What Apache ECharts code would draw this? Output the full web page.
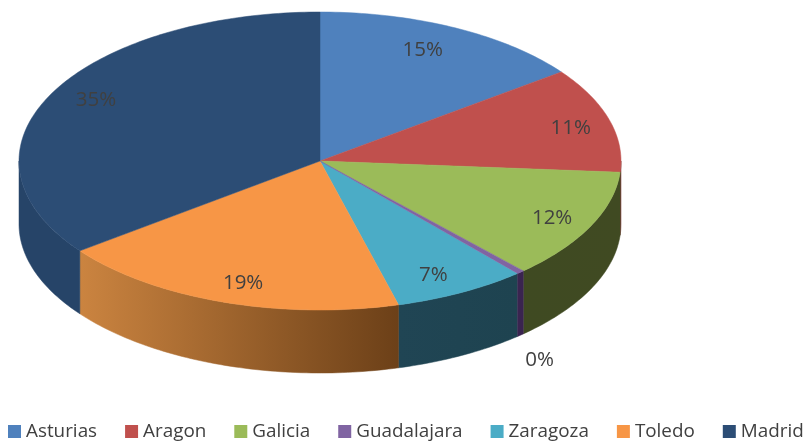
<!DOCTYPE html>
<html>
<head>
<meta charset="utf-8">
<title>Pie</title>
<script src="https://cdn.jsdelivr.net/npm/echarts@6/dist/echarts.min.js"></script>
<style>
  html, body { margin: 0; padding: 0; background: #fff; }
  #main { width: 807px; height: 444px; }
</style>
</head>
<body>
<div id="main"></div>
<script>
// data
var categories = ['Asturias', 'Aragon', 'Galicia', 'Guadalajara', 'Zaragoza', 'Toledo', 'Madrid'];
var shares = [14.8, 11.4, 12.0, 0.4, 7.2, 18.9, 35.3];

// styles
var topColors = ['#4f81bd', '#c0504d', '#9bbb59', '#8064a2', '#4bacc6', '#f79646', '#2c4d75'];
var wallLeft = ['#2f4d71', '#73302e', '#3f4a22', '#3a2450', '#204554', '#cb8440', '#264468'];
var wallRight = ['#2f4d71', '#73302e', '#404a22', '#3a2450', '#1e4350', '#6c4018', '#264468'];

// layout of the tilted pie
var cx = 320, cy = 161, rx = 301, ry = 149, depth = 63;
var labelRadius = 0.85;
// label nudges in px, same order as categories
var nudgeX = [-12, 5, 2, -1, -7, 6, 5];
var nudgeY = [2, 2, 2, 2, 2, 2, -4];

var total = shares.reduce(function (a, b) { return a + b; }, 0);
var starts = [];
var sum = 0;
shares.forEach(function (v) {
  starts.push(sum / total * 360);
  sum += v;
});

function rimPoint(deg, r, dy) {
  var t = deg * Math.PI / 180;
  return [cx + rx * r * Math.sin(t), cy - ry * r * Math.cos(t) + (dy || 0)];
}

function arcPoints(a, b, dy) {
  var pts = [];
  var n = Math.max(2, Math.ceil(Math.abs(b - a)));
  for (var i = 0; i <= n; i++) {
    pts.push(rimPoint(a + (b - a) * i / n, 1, dy));
  }
  return pts;
}

function sliceRenderer(k) {
  return function () {
    var a = starts[k];
    var b = a + shares[k] / total * 360;
    var children = [];

    // front wall, only the part of the rim facing the viewer
    var wa = Math.max(a, 90), wb = Math.min(b, 270);
    if (wb > wa) {
      var wall = arcPoints(wa, wb, 0).concat(arcPoints(wb, wa, depth));
      var fill = new echarts.graphic.LinearGradient(0, 0, 1, 0, [
        { offset: 0, color: wallLeft[k] },
        { offset: 1, color: wallRight[k] }
      ]);
      children.push({
        type: 'polygon',
        shape: { points: wall },
        style: { fill: fill, stroke: fill, lineWidth: 0.5 }
      });
    }

    // top face
    children.push({
      type: 'polygon',
      shape: { points: [[cx, cy]].concat(arcPoints(a, b, 0)) },
      style: { fill: topColors[k], stroke: topColors[k], lineWidth: 0.5 }
    });

    // percentage label
    var pct = Math.round(shares[k] / total * 100);
    var mid = (a + b) / 2;
    var pos = pct === 0 ? rimPoint(mid, 1.1, depth + 12) : rimPoint(mid, labelRadius);
    children.push({
      type: 'text',
      z2: 100,
      style: {
        x: pos[0] + nudgeX[k],
        y: pos[1] + nudgeY[k],
        text: pct + '%',
        fill: '#404040',
        font: '20.5px "Open Sans"',
        align: 'center',
        verticalAlign: 'middle'
      }
    });
    return { type: 'group', children: children };
  };
}

var myChart = echarts.init(document.getElementById('main'), null, { renderer: 'canvas' });

var option = {
  animation: false,
  color: topColors,
  legend: {
    data: categories,
    left: 8,
    top: 422,
    padding: 0,
    icon: 'rect',
    itemWidth: 13,
    itemHeight: 13,
    itemGap: 28,
    selectedMode: false,
    textStyle: { color: '#404040', fontFamily: 'Open Sans', fontSize: 18.85 }
  },
  series: categories.map(function (name, k) {
    return {
      type: 'custom',
      name: name,
      coordinateSystem: 'none',
      silent: true,
      z: k === 3 ? 3 : 2,
      data: [[shares[k]]],
      renderItem: sliceRenderer(k)
    };
  })
};

myChart.setOption(option);
</script>
</body>
</html>
